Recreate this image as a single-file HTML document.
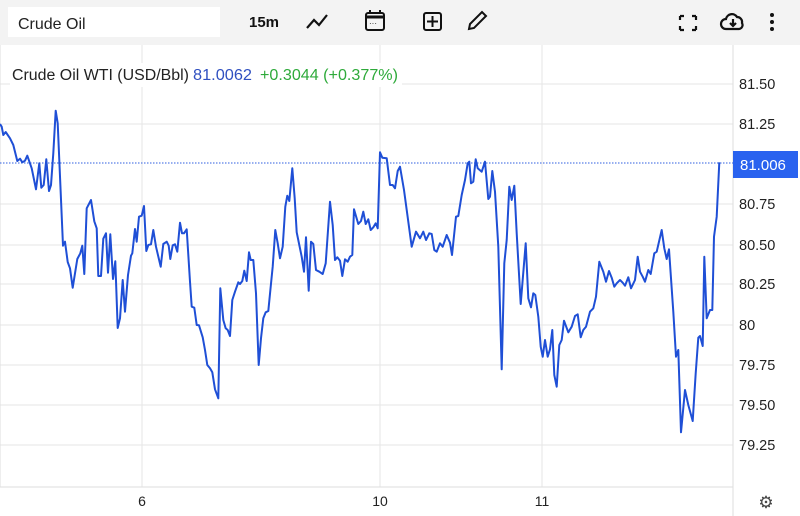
<!DOCTYPE html>
<html><head><meta charset="utf-8"><style>
html,body{margin:0;padding:0;width:800px;height:516px;overflow:hidden;background:#fff;font-family:"Liberation Sans",sans-serif}
</style></head><body>
<svg width="800" height="516" viewBox="0 0 800 516" xmlns="http://www.w3.org/2000/svg" style="position:absolute;left:0;top:0">
<rect x="0" y="0" width="800" height="45" fill="#f3f3f3"/>
<rect x="8" y="7" width="212" height="30" fill="#fff"/>
<text x="18" y="29" font-size="16" fill="#222">Crude Oil</text>
<text x="249" y="27" font-size="15" font-weight="bold" fill="#111">15m</text>
<polyline points="307,28 314,20 319,25 327,15" fill="none" stroke="#111" stroke-width="2.2"/>
<rect x="366" y="13" width="18" height="17" rx="2" fill="none" stroke="#111" stroke-width="2"/>
<line x1="366" y1="17" x2="384" y2="17" stroke="#111" stroke-width="3"/>
<line x1="370" y1="10" x2="370" y2="14" stroke="#111" stroke-width="2"/><line x1="380" y1="10" x2="380" y2="14" stroke="#111" stroke-width="2"/>
<text x="369" y="26" font-size="8" fill="#111">···</text>
<rect x="424" y="13" width="17" height="17" rx="2" fill="none" stroke="#111" stroke-width="2"/>
<line x1="432.5" y1="16" x2="432.5" y2="27" stroke="#111" stroke-width="2"/><line x1="427" y1="21.5" x2="438" y2="21.5" stroke="#111" stroke-width="2"/>
<path d="M469 29 L470 24 L482 12 L486 16 L474 28 Z" fill="none" stroke="#111" stroke-width="2"/>
<g stroke="#111" stroke-width="2.2" fill="none">
<path d="M680 16 L684 16 M680 16 L680 20 M696 16 L692 16 M696 16 L696 20 M680 30 L684 30 M680 30 L680 26 M696 30 L692 30 M696 30 L696 26"/>
<path d="M726 29 a5 5 0 0 1 0 -10 a6 6 0 0 1 11 -2 a5 5 0 0 1 5 6 a4 4 0 0 1 -3 6 Z"/>
<path d="M733 19 L733 26 M730 23 L733 26 L736 23"/>
</g>
<circle cx="772" cy="15" r="2" fill="#111"/><circle cx="772" cy="22" r="2" fill="#111"/><circle cx="772" cy="29" r="2" fill="#111"/>
<g stroke="#e6e6e6" stroke-width="1">
<line x1="0" y1="84" x2="733" y2="84"/><line x1="0" y1="124" x2="733" y2="124"/>
<line x1="0" y1="204" x2="733" y2="204"/><line x1="0" y1="245" x2="733" y2="245"/>
<line x1="0" y1="284" x2="733" y2="284"/><line x1="0" y1="325" x2="733" y2="325"/>
<line x1="0" y1="365" x2="733" y2="365"/><line x1="0" y1="405" x2="733" y2="405"/>
<line x1="0" y1="445" x2="733" y2="445"/>
<line x1="142" y1="45" x2="142" y2="487"/><line x1="380" y1="45" x2="380" y2="487"/><line x1="542" y1="45" x2="542" y2="487"/>
</g>
<line x1="733" y1="45" x2="733" y2="516" stroke="#ddd"/>
<line x1="0" y1="487" x2="733" y2="487" stroke="#ddd"/>
<line x1="0" y1="45" x2="0" y2="487" stroke="#ddd"/>
<line x1="0" y1="163" x2="733" y2="163" stroke="#2f5fe0" stroke-width="1" stroke-dasharray="1.5,1.5"/>
<rect x="10" y="63" width="392" height="24" fill="#fff"/>
<g font-size="15.5">
<text x="12" y="80" fill="#222" textLength="177" lengthAdjust="spacingAndGlyphs">Crude Oil WTI (USD/Bbl)</text>
<text x="193" y="80" fill="#2f4fc0" textLength="59" lengthAdjust="spacingAndGlyphs">81.0062</text>
<text x="260" y="80" fill="#2eaa3a" textLength="138" lengthAdjust="spacingAndGlyphs">+0.3044 (+0.377%)</text>
</g>
<g font-size="14.5" fill="#222">
<text x="739" y="89">81.50</text><text x="739" y="129">81.25</text><text x="739" y="209">80.75</text>
<text x="739" y="250">80.50</text><text x="739" y="289">80.25</text><text x="739" y="330">80</text>
<text x="739" y="370">79.75</text><text x="739" y="410">79.50</text><text x="739" y="450">79.25</text>
</g>
<rect x="733" y="151" width="65" height="27" fill="#2962ef"/>
<text x="740" y="170" font-size="15" fill="#fff">81.006</text>
<g font-size="14" fill="#222" text-anchor="middle">
<text x="142" y="506">6</text><text x="380" y="506">10</text><text x="542" y="506">11</text>
</g>
<text x="766" y="508" font-size="17" fill="#444" text-anchor="middle">⚙</text>
<polyline id="ln" fill="none" stroke="#1f4fd6" stroke-width="2" stroke-linejoin="round"/>
</svg>
<script>
var a=[5,80,10,105,17,96,30,115,40,135,52,183,60,176,67,187,75,182,82,167,95,205,108,268,118,190,124,263,131,255,139,178,147,273,153,255,160,160,167,32,173,70,189,437,195,425,203,486,210,505,218,563,232,477,241,460,247,437,253,522,260,325,273,300,283,364,290,385,295,528,303,528,310,416,318,400,324,518,331,403,339,537,346,484,353,684,360,655,368,540,375,635,384,525,393,467,397,460,405,387,410,425,417,350,425,347,432,318,439,453,445,435,453,433,460,390,468,440,482,500,490,432,500,425,506,437,511,477,518,436,525,433,532,455,540,368,546,400,552,400,560,388,570,545,575,620,583,623,590,675,597,676,608,712,615,750,622,795,630,805,637,817,645,868,655,895,661,565,670,660,677,685,683,690,690,708,697,600,705,575,715,547,720,552,727,543,733,512,740,543,747,457,752,480,760,480,768,580,776,795,783,715,790,655,797,637,805,633,812,560,818,500,826,390,833,430,840,475,848,440,856,320,862,287,868,303,877,205,884,295,890,397,898,435,905,470,912,515,918,412,926,572,933,425,940,432,948,510,958,515,968,522,977,490,990,305,998,375,1005,480,1012,472,1020,482,1027,528,1035,478,1043,485,1050,470,1057,465,1062,328,1075,372,1083,363,1090,335,1097,372,1105,358,1112,390,1120,382,1127,370,1133,385,1140,157,1147,173,1160,175,1170,255,1178,255,1185,265,1193,213,1200,200];
var b=[12,270,35,440,48,395,60,415,70,395,78,420,88,400,95,402,103,450,110,455,120,430,128,440,140,405,150,428,156,465,168,350,175,348,185,285,195,240,203,190,208,185,213,250,220,245,227,178,233,205,245,215,255,185,265,297,270,290,277,213,285,275,295,440,305,808,313,490,320,420,328,260,335,300,343,257,350,400,362,612,377,430,385,595,393,622,400,580,406,585,415,650,422,740,428,770,435,720,443,770,450,748,457,690,463,825,470,860,478,735,485,720,492,662,505,697,515,680,525,648,533,643,542,712,550,690,558,680,570,635,580,625,588,590,598,485,610,515,618,545,627,513,635,533,643,560,650,550,660,540,668,548,675,557,685,532,693,565,705,540,713,470,720,515,728,530,735,545,745,510,752,522,763,460,770,455,785,390,793,445,800,477,807,448,820,635,828,770,835,750,843,997,855,870,865,915,878,963,887,820,895,713,900,708,908,738,913,470,920,655,930,630,937,630,942,410,950,350,958,187];
var p=["0,124"];
for(var i=0;i<a.length;i+=2)p.push((a[i]/3).toFixed(1)+","+(100+a[i+1]/3).toFixed(1));
for(var i=0;i<b.length;i+=2)p.push((400+b[i]/3).toFixed(1)+","+(100+b[i+1]/3).toFixed(1));
document.getElementById("ln").setAttribute("points",p.join(" "));
</script>
</body></html>
